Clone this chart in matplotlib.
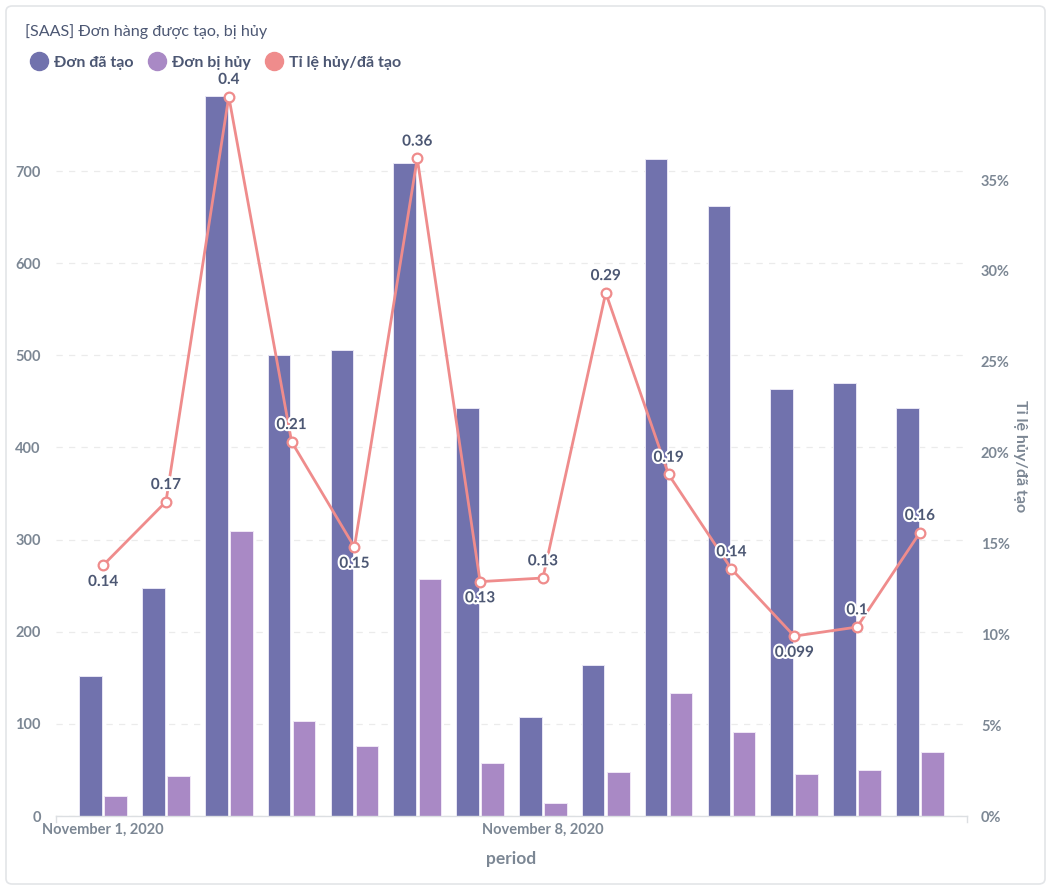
import matplotlib
matplotlib.use("Agg")
import matplotlib.pyplot as plt
import numpy as np
from matplotlib.lines import Line2D
from matplotlib.patches import FancyBboxPatch
from matplotlib.ticker import FuncFormatter, MultipleLocator
import matplotlib.patheffects as pe

plt.rcParams['font.family'] = ['Lato', 'DejaVu Sans']

# ---- data ----
days = ["Nov 1", "Nov 2", "Nov 3", "Nov 4", "Nov 5", "Nov 6", "Nov 7",
        "Nov 8", "Nov 9", "Nov 10", "Nov 11", "Nov 12", "Nov 13", "Nov 14"]
created = [152, 247, 781, 500, 506, 709, 443, 107, 164, 713, 662, 463, 470, 443]
cancelled = [22, 43, 309, 103, 76, 257, 57, 14, 48, 134, 91, 46, 50, 69]
ratio = [0.138, 0.173, 0.396, 0.206, 0.148, 0.362, 0.129, 0.131, 0.288,
         0.188, 0.136, 0.099, 0.104, 0.156]
ratio_labels = ["0.14", "0.17", "0.4", "0.21", "0.15", "0.36", "0.13", "0.13",
                "0.29", "0.19", "0.14", "0.099", "0.1", "0.16"]
label_below = [True, False, False, False, True, False, True, False, False,
               False, False, True, False, False]
xtick_pos = [0, 7]
xtick_labels = ["November 1, 2020", "November 8, 2020"]
series_names = ["Đơn đã tạo", "Đơn bị hủy", "Tỉ lệ hủy/đã tạo"]

C_DARK = "#7172AD"
C_LIGHT = "#A989C5"
C_LINE = "#EF8C8C"
C_TICK = "#7C8794"
C_TEXT = "#4C5773"

W, H = 1051, 890
fig = plt.figure(figsize=(W / 100, H / 100), dpi=100)

# card border
card = FancyBboxPatch((6 / W, 6 / H), (W - 12) / W, (H - 12) / H,
                      boxstyle="round,pad=0,rounding_size=0.006",
                      transform=fig.transFigure, fill=False,
                      edgecolor="#E3E5E8", linewidth=1.2)
fig.patches.append(card)

ax = fig.add_axes([56 / W, (H - 816) / H, (967 - 56) / W, (816 - 96) / H])
x = np.arange(len(days))
bw = 0.36
ax.bar(x - 0.2, created, width=bw, color=C_DARK, edgecolor="#E8E6F4",
       linewidth=0.7, zorder=2)
ax.bar(x + 0.2, cancelled, width=bw, color=C_LIGHT, edgecolor="#F0E8F6",
       linewidth=0.7, zorder=2)
ax.set_xlim(-0.75, 13.75)
ax.set_ylim(0, 781.4)
ax.yaxis.set_major_locator(MultipleLocator(100))
ax.grid(axis='y', color="#EBEBEB", linestyle=(0, (5, 5)), linewidth=0.9, zorder=0)
ax.set_axisbelow(True)
for s in ['left', 'right', 'top']:
    ax.spines[s].set_visible(False)
ax.spines['bottom'].set_color("#DCDFE2")
ax.spines['bottom'].set_linewidth(1.0)
ax.set_xticks(xtick_pos)
ax.set_xticklabels(xtick_labels)
ax.tick_params(axis='x', length=0, pad=5, labelsize=10.5, labelcolor=C_TICK)
ax.tick_params(axis='y', length=0, pad=11, labelsize=10.5, labelcolor=C_TICK)
for t in ax.get_xticklabels() + ax.get_yticklabels():
    t.set_fontweight('bold')
ax.set_xlabel("period", fontsize=12.5, fontweight='bold', color=C_TICK, labelpad=10)

ax2 = ax.twinx()
ax2.set_ylim(0, 0.3963)
ax2.yaxis.set_major_locator(MultipleLocator(0.05))
ax2.yaxis.set_major_formatter(FuncFormatter(lambda v, p: f"{v*100:.0f}%"))
for s in ['left', 'right', 'top', 'bottom']:
    ax2.spines[s].set_visible(False)
ax2.tick_params(axis='y', length=0, pad=10, labelsize=10.5, labelcolor=C_TICK)
for t in ax2.get_yticklabels():
    t.set_fontweight('bold')
ax2.set_ylabel(series_names[2], rotation=270, fontsize=11.5, fontweight='bold',
               color=C_TICK, labelpad=12)
ax2.patch.set_visible(False)

ax2.plot(x, ratio, color=C_LINE, lw=2, marker='o', markersize=7,
         markerfacecolor='white', markeredgecolor=C_LINE, markeredgewidth=1.6,
         zorder=3, clip_on=False)
for xi, v, lab, below in zip(x, ratio, ratio_labels, label_below):
    ax2.annotate(lab, (xi, v), xytext=(0, -12 if below else 12),
                 textcoords='offset points', ha='center', va='center',
                 fontsize=11, fontweight='bold', color=C_TEXT, zorder=5,
                 annotation_clip=False,
                 path_effects=[pe.withStroke(linewidth=3, foreground='white')])

# small end ticks on the x axis line
for xe in (-0.75, 13.75):
    ax.add_line(Line2D([xe, xe], [0, -0.009], transform=ax.get_xaxis_transform(),
                       color="#DCDFE2", lw=1.0, clip_on=False))

# title
fig.text(25 / W, 1 - 32 / H, "[SAAS] Đơn hàng được tạo, bị hủy", fontsize=11.6,
         color=C_TEXT, ha='left', va='center')

# legend
handles = [Line2D([], [], marker='o', ls='', markersize=13, color=c)
           for c in (C_DARK, C_LIGHT, C_LINE)]
leg = fig.legend(handles, series_names, loc='center left',
                 bbox_to_anchor=(15 / W, 1 - 63 / H), ncol=3, frameon=False,
                 handletextpad=0.35, columnspacing=0.85, handlelength=1.2,
                 prop={'size': 11.5, 'weight': 'bold'})
for t in leg.get_texts():
    t.set_color(C_TEXT)

fig.savefig("out.png", dpi=100)
